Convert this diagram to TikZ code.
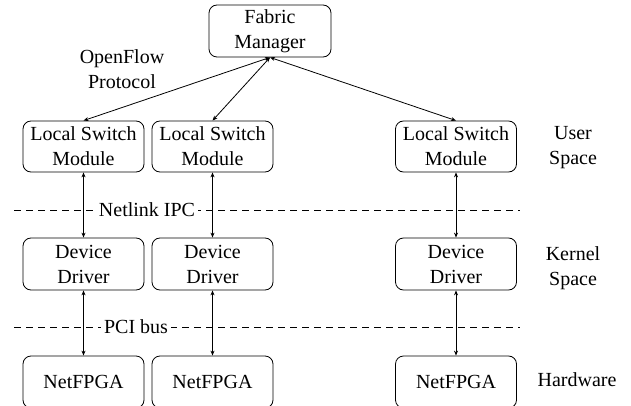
\documentclass[tikz,border=0pt]{standalone}
\usepackage{fontspec}
\setmainfont{Liberation Serif}
\usetikzlibrary{arrows.meta}
\tikzset{
  box/.style={draw, line width=0.8pt, rounded corners=8pt, minimum width=121pt, minimum height=51pt, align=center, inner sep=0pt},
  lbl/.style={align=center, inner sep=1pt},
  dline/.style={dashed, dash pattern=on 7pt off 5pt, line width=0.7pt},
  conn/.style={line width=0.8pt, {Stealth[length=5pt,width=4pt]}-{Stealth[length=5pt,width=4pt]}},
  buslbl/.style={fill=white, inner sep=3pt}
}
\begin{document}
\begin{tikzpicture}[x=1pt,y=-1pt, font=\fontsize{20}{25}\selectfont]
\clip (0,0) rectangle (631,406);
\node[box, minimum width=122pt, minimum height=52pt] (fm) at (270,31) {Fabric\\Manager};
\node[lbl] (of) at (122,69) {OpenFlow\\Protocol};

\node[box] (lsm1) at (83.5,146.5) {Local Switch\\Module};
\node[box] (lsm2) at (212.5,146.5) {Local Switch\\Module};
\node[box] (lsm3) at (456,146.5) {Local Switch\\Module};
\node[lbl] (us) at (573,148) {User\\Space};

\coordinate (nl1) at (14,210);
\coordinate (nl2) at (520,210);
\draw[dline] (nl1) -- (nl2);
\node[buslbl] (nl) at (147,210) {Netlink IPC};

\node[box, minimum height=52pt] (dd1) at (83.5,264) {Device\\Driver};
\node[box, minimum height=52pt] (dd2) at (212.5,264) {Device\\Driver};
\node[box, minimum height=52pt] (dd3) at (456,264) {Device\\Driver};
\node[lbl] (ks) at (573,268) {Kernel\\Space};

\coordinate (pci1) at (14,327);
\coordinate (pci2) at (520,327);
\draw[dline] (pci1) -- (pci2);
\node[buslbl] (pci) at (136,327) {PCI bus};

\node[box, minimum height=52pt] (nf1) at (83.5,382) {NetFPGA};
\node[box, minimum height=52pt] (nf2) at (212.5,382) {NetFPGA};
\node[box, minimum height=52pt] (nf3) at (456,382) {NetFPGA};
\node[lbl] (hw) at (577,380) {Hardware};

\draw[conn] (fm.south) -- (lsm1.north);
\draw[conn] (fm.south) -- (lsm2.north);
\draw[conn] (fm.south) -- (lsm3.north);
\draw[conn] (lsm1.south) -- (dd1.north);
\draw[conn] (lsm2.south) -- (dd2.north);
\draw[conn] (lsm3.south) -- (dd3.north);
\draw[conn] (dd1.south) -- (nf1.north);
\draw[conn] (dd2.south) -- (nf2.north);
\draw[conn] (dd3.south) -- (nf3.north);
\end{tikzpicture}
\end{document}
